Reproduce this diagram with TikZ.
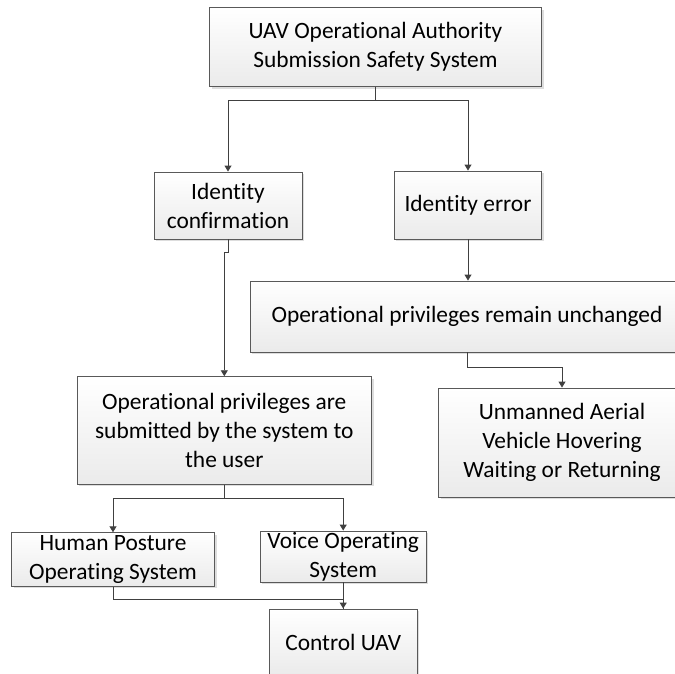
\documentclass[tikz,border=0pt]{standalone}
\usepackage{fontspec}
\setmainfont{Carlito}[Ligatures=NoCommon]
\usetikzlibrary{arrows.meta,shadows}

\tikzset{
  box/.style={draw=black!65, line width=0.9pt, align=center,
    top color=white, bottom color=black!8,
    drop shadow={shadow xshift=2pt, shadow yshift=-2pt, fill=black!22, opacity=0.6},
    font=\fontsize{23.4}{29}\selectfont, inner sep=0pt},
  link/.style={draw=black!75, line width=0.9pt,
    -{Triangle[width=7pt,length=6pt]}},
  plain/.style={draw=black!75, line width=0.9pt}
}

\begin{document}
\begin{tikzpicture}[x=1pt,y=-1pt]
  \useasboundingbox (0,0) rectangle (675,673);
  \clip (0,0) rectangle (675,673);

  % boxes (centres and sizes in picture units)
  \node[box, minimum width=332pt, minimum height=79pt] (top) at (375.5,47)
    {UAV Operational Authority\\Submission Safety System};
  \node[box, minimum width=148pt, minimum height=67pt] (idc) at (228,205.5)
    {Identity\\confirmation};
  \node[box, minimum width=147.5pt, minimum height=68pt] (ide) at (468,205)
    {Identity error};
  \node[box, minimum width=434pt, minimum height=71pt] (rem) at (467,316.5)
    {Operational privileges remain unchanged};
  \node[box, minimum width=247pt, minimum height=109pt] (hov) at (562,442.5)
    {Unmanned Aerial\\Vehicle Hovering\\Waiting or Returning};
  \node[box, minimum width=294.5pt, minimum height=107.6pt] (opp) at (224.3,430.5)
    {Operational privileges are\\submitted by the system to\\the user};
  \node[box, minimum width=203pt, minimum height=53.3pt] (hum) at (113,559.4)
    {Human Posture\\Operating System};
  \node[box, minimum width=165.6pt, minimum height=51pt] (voi) at (343.2,556.5)
    {Voice Operating\\System};
  \node[box, minimum width=147.5pt, minimum height=66pt] (ctl) at (343.2,642)
    {Control UAV};

  % connectors
  \draw[link] (top.south) -- ++(0,13.3) -| (idc.north);
  \draw[link] (top.south) -- ++(0,13.3) -| (ide.north);
  \draw[link] (idc.south) -- ++(0,13) -| (opp.north);
  \draw[link] (ide.south) -- (ide.south |- rem.north);
  \draw[link] (rem.south) -- ++(0,14.7) -| (hov.north);
  \draw[link] (opp.south) -- ++(0,13.4) -| (hum.north);
  \draw[link] (opp.south) -- ++(0,13.4) -| (voi.north);
  \draw[plain] (hum.south) -- ++(0,13) -| (ctl.north);
  \draw[link] (voi.south) -- (ctl.north);
\end{tikzpicture}
\end{document}
